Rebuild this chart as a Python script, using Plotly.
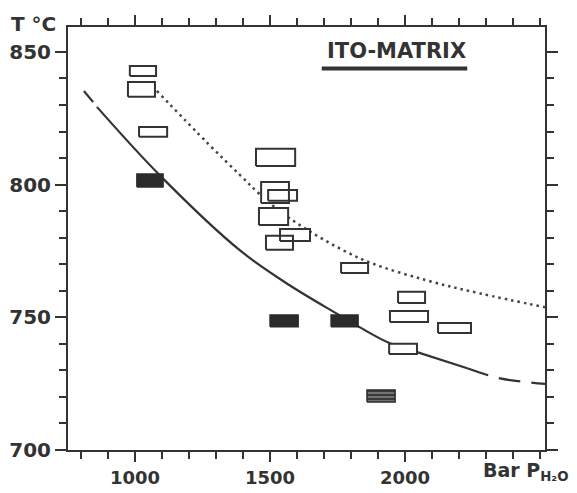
import plotly.graph_objects as go

# ---- data ----
# open boxes: pressure centre / half-width (bar), temperature centre / half-height (deg C)
open_P = [1029.5, 1024, 1067, 1520.5, 1518.5, 1546.5, 1513, 1592.5, 1535, 1813, 2024, 2014.5, 2183, 1992.5]
open_dP = [48.5, 50, 52, 72.5, 51.5, 53.5, 54, 55.5, 50, 50, 50, 70.5, 61, 51.5]
open_T = [842.85, 835.9, 819.85, 810.25, 797.05, 795.95, 788.0, 781.05, 778.1, 768.6, 757.5, 750.3, 746.0, 738.1]
open_dT = [1.9, 2.8, 1.85, 3.25, 3.95, 2.05, 3.2, 2.25, 2.6, 1.9, 2.1, 2.1, 1.9, 1.9]

# filled boxes
fill_P = [1055.5, 1552, 1776]
fill_dP = [48.5, 52, 50]
fill_T = [801.55, 748.65, 748.65]
fill_dT = [2.45, 2.25, 2.25]

# hatched box
hatch_P = [1911]
hatch_dP = [52]
hatch_T = [720.35]
hatch_dT = [2.25]

# solid (lower) curve
sol_P = [811, 845, 859, 1093, 1389, 1574, 1752, 1833, 1944, 2056, 2230, 2352, 2518]
sol_T = [835.3, 831.1, 829.3, 803.4, 775.2, 762.0, 751.1, 746.2, 740.2, 736.5, 730.8, 727.0, 724.9]

# dotted (upper) curve
dot_P = [1081, 1270, 1389, 1463, 1574, 1833, 2081, 2278, 2518]
dot_T = [835.3, 815.5, 803.6, 796.3, 787.2, 772.2, 763.9, 759.0, 753.8]

x_ticks = [1000, 1500, 2000]
y_ticks = [700, 750, 800, 850]

INK = "#333333"
FONT = "DejaVu Sans"


def boxes(P, dP, T, dT):
    xs, ys = [], []
    for p, dp, t, dt in zip(P, dP, T, dT):
        xs += [p - dp, p + dp, p + dp, p - dp, p - dp, None]
        ys += [t - dt, t - dt, t + dt, t + dt, t - dt, None]
    return xs, ys


fig = go.Figure()

# curves
fig.add_trace(go.Scatter(x=sol_P[0:2], y=sol_T[0:2], mode="lines",
                         line=dict(color=INK, width=2.2), hoverinfo="skip"))
fig.add_trace(go.Scatter(x=sol_P[2:11], y=sol_T[2:11], mode="lines",
                         line=dict(color=INK, width=2.2, shape="spline", smoothing=1.0),
                         hoverinfo="skip"))
fig.add_trace(go.Scatter(x=sol_P[10:], y=sol_T[10:], mode="lines",
                         line=dict(color=INK, width=2.2, shape="spline", dash="22px,11px"),
                         hoverinfo="skip"))
fig.add_trace(go.Scatter(x=dot_P, y=dot_T, mode="lines",
                         line=dict(color="#444444", width=2.5, shape="spline",
                                   smoothing=1.0, dash="2.5px,4px"),
                         hoverinfo="skip"))

# white backgrounds of open boxes (mask curves underneath)
bx, by = boxes(open_P, open_dP, open_T, open_dT)
fig.add_trace(go.Scatter(x=bx, y=by, mode="lines", fill="toself", fillcolor="white",
                         line=dict(width=0, color="rgba(0,0,0,0)"), hoverinfo="skip"))
# outlines of open boxes
fig.add_trace(go.Scatter(x=bx, y=by, mode="lines",
                         line=dict(color=INK, width=2), hoverinfo="skip"))

# filled boxes
fx, fy = boxes(fill_P, fill_dP, fill_T, fill_dT)
fig.add_trace(go.Scatter(x=fx, y=fy, mode="lines", fill="toself", fillcolor="#2b2b2b",
                         line=dict(color="#2b2b2b", width=1.5), hoverinfo="skip"))

# hatched box
hx, hy = boxes(hatch_P, hatch_dP, hatch_T, hatch_dT)
fig.add_trace(go.Scatter(x=hx, y=hy, mode="lines", fill="toself",
                         fillpattern=dict(shape="-", bgcolor="#3a3a3a", fgcolor="#dddddd",
                                          size=4, solidity=0.35),
                         line=dict(color="#2b2b2b", width=1.5), hoverinfo="skip"))

axis_common = dict(
    showline=True, linecolor=INK, linewidth=2, mirror="ticks",
    ticks="outside", tickcolor=INK, tickwidth=2,
    showgrid=False, zeroline=False, automargin=False,
)

fig.update_xaxes(range=[752, 2518], tickvals=x_ticks, ticklen=10,
                 tickfont=dict(family=FONT, size=18, color=INK, weight="bold"),
                 minor=dict(dtick=100, tick0=0, ticks="outside", ticklen=7,
                            tickcolor=INK, tickwidth=2, showgrid=False),
                 **axis_common)
fig.update_yaxes(range=[700, 859.4], tickvals=y_ticks, ticklen=11,
                 tickfont=dict(family=FONT, size=20, color=INK, weight="bold"),
                 minor=dict(dtick=10, tick0=0, ticks="outside", ticklen=7,
                            tickcolor=INK, tickwidth=2, showgrid=False),
                 **axis_common)

# the page body adds an 8 px offset, so the figure is sized to fit the window
fig.update_layout(
    width=569, height=485,
    margin=dict(l=60, r=32, t=19, b=43, autoexpand=False),
    paper_bgcolor="white", plot_bgcolor="white",
    showlegend=False,
    font=dict(family=FONT, color=INK),
    annotations=[
        dict(text="ITO-MATRIX", xref="paper", yref="paper", x=0.688, y=0.943,
             xanchor="center", yanchor="middle", showarrow=False,
             font=dict(family=FONT, size=21, color=INK, weight="bold")),
        dict(text="T °C", xref="paper", yref="paper", x=-0.072, y=1.007,
             xanchor="center", yanchor="middle", showarrow=False,
             font=dict(family=FONT, size=20, color=INK, weight="bold")),
        dict(text="Bar P<sub>H₂O</sub>", xref="paper", yref="paper", x=0.866, y=-0.052,
             xanchor="left", yanchor="middle", showarrow=False,
             font=dict(family=FONT, size=19, color=INK, weight="bold")),
    ],
    shapes=[
        dict(type="line", xref="paper", yref="paper", x0=0.532, x1=0.837,
             y0=0.902, y1=0.902, line=dict(color=INK, width=4)),
    ],
)

fig.write_html("out.html")
